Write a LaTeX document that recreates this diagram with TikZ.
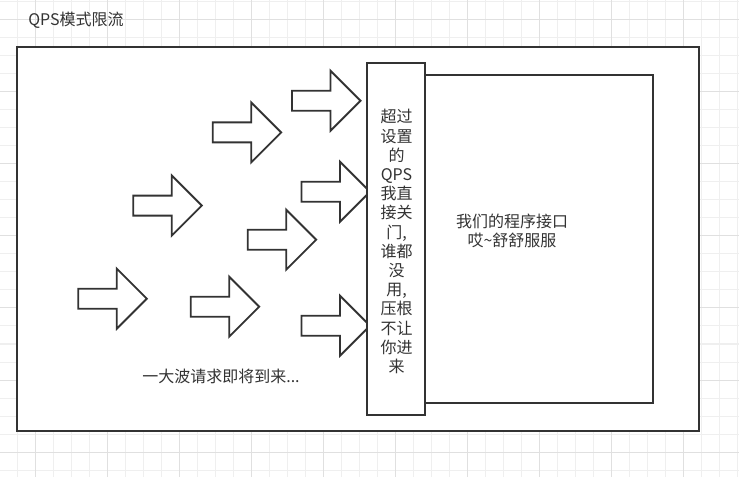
\documentclass[tikz,border=0pt]{standalone}
\usepackage{fontspec}
\setmainfont{Noto Sans CJK SC}
\usetikzlibrary{positioning}
\definecolor{ink}{HTML}{333333}
\definecolor{gridminor}{HTML}{EFEFEF}
\definecolor{gridmajor}{HTML}{E0E0E0}
\tikzset{
    minorline/.style={gridminor, line width=0.75pt},
    majorline/.style={gridmajor, line width=0.75pt},
    frame/.style={draw=ink, line width=1.5pt, fill=white},
    apibox/.style={draw=ink, line width=1.3pt, fill=white},
    label/.style={text=ink, font=\fontsize{12}{14.4}\selectfont, inner sep=0pt, align=center},
    request/.pic={
        \draw[draw=ink, line width=1.4pt, fill=white]
            (0,-10) -- (38.5,-10) -- (38.5,-30) -- (68.5,0) -- (38.5,30) -- (38.5,10) -- (0,10) -- cycle;
    }
}

\begin{document}
\begin{tikzpicture}[x=0.75pt, y=-0.75pt]
    \useasboundingbox (0,0) rectangle (739,477);
    % grid paper
    \foreach \i in {0,...,40} \draw[minorline] (17.7+18*\i,0) -- (17.7+18*\i,477);
    \foreach \i in {0,...,26} \draw[minorline] (0,2+18*\i) -- (739,2+18*\i);
    \foreach \i in {0,...,10} \draw[majorline] (35.7+72*\i,0) -- (35.7+72*\i,477);
    \foreach \i in {0,...,6} \draw[majorline] (0,20+72*\i) -- (739,20+72*\i);

    \node[label, anchor=west] (title) at (28,20.5) {QPS模式限流};
    \draw[frame] (17,47) rectangle (699,431);

    % incoming requests
    \pic at (292,100.7) {request};
    \pic at (212.7,132.4) {request};
    \pic at (133.3,205.6) {request};
    \pic at (301.5,191.7) {request};
    \pic at (247.7,239.7) {request};
    \pic at (78.3,298.7) {request};
    \pic at (190.7,306.7) {request};
    \pic at (301.5,325.7) {request};
    \node[label] (crowd) at (221,376.7) {一大波请求即将到来...};

    % interface behind the gate
    \draw[apibox] (425,75) rectangle (653,403);
    \node[label] (api) at (512,230.5) {我们的程序接口\\哎\textasciitilde 舒舒服服};

    \draw[frame] (367,63) rectangle (425,415);
    \node[label] (gate) at (396.5,241.7) {超过\\设置\\的\\QPS\\我直\\接关\\门,\\谁都\\没\\用,\\压根\\不让\\你进\\来};
\end{tikzpicture}
\end{document}
